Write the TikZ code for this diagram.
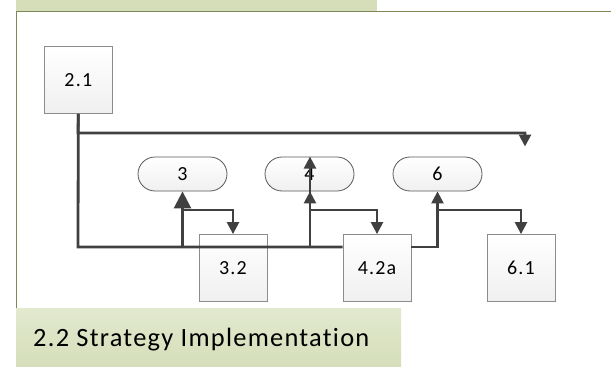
\documentclass[tikz,border=0pt]{standalone}
\usepackage{fontspec}
\setmainfont{Carlito}[Ligatures=NoCommon]
\newfontfamily\labelfont{Carlito}[LetterSpace=6, Ligatures=NoCommon]
\newfontfamily\titlefont{Carlito}[LetterSpace=4.8, Ligatures=NoCommon]
\usetikzlibrary{arrows.meta}

\definecolor{linkgray}{HTML}{404040}
\definecolor{boxedge}{HTML}{8C8C8C}
\definecolor{pilledge}{HTML}{595959}
\definecolor{bandgreen}{HTML}{D5DEB9}
\definecolor{bandlight}{HTML}{E2E9CF}
\definecolor{frameolive}{HTML}{7D8759}

\tikzset{
  stepbox/.style={draw=boxedge, line width=0.8pt, top color=white, bottom color=black!6,
    minimum width=68pt, minimum height=67pt, inner sep=0pt,
    font=\labelfont\fontsize{20}{24}\selectfont},
  pill/.style={draw=pilledge, line width=0.8pt, top color=white, bottom color=black!6,
    rounded corners=17pt, minimum width=89pt, minimum height=34pt, inner sep=0pt,
    font=\labelfont\fontsize{20}{24}\selectfont},
  link/.style={draw=linkgray, line width=2.8pt},
  branch/.style={draw=linkgray, line width=2.4pt, -{Triangle[length=12pt,width=12pt]}},
  bigtip/.style={draw=linkgray, line width=2.6pt, -{Triangle[length=17pt,width=17pt]}},
}

\begin{document}
\begin{tikzpicture}[x=1pt, y=-1pt]
  \useasboundingbox (0,0) rectangle (611,367);

  % frame and title bands
  \fill[bandgreen] (16,0) rectangle (377,11);
  \draw[frameolive, line width=1pt] (611,11.5) -- (16,11.5) -- (16,308);
  \shade[top color=bandlight, bottom color=bandgreen] (16,308) rectangle (401,367);
  \node[anchor=base west, inner sep=0pt, font=\titlefont\fontsize{26.4}{30}\selectfont] (title)
    at (33,346) {2.2 Strategy Implementation};

  % nodes
  \node[stepbox] (n21) at (78.3,80) {2.1};
  \node[pill] (p3) at (182.5,174) {3};
  \node[pill] (p4) at (309.5,174) {4};
  \node[pill] (p6) at (437.5,174) {6};
  \node[stepbox] (b32) at (233,268) {3.2};
  \node[stepbox] (b42) at (377,268) {4.2a};
  \node[stepbox] (b61) at (521,268) {6.1};

  % junction points
  \coordinate (top) at (78,133);
  \coordinate (open) at (525,146.5);
  \coordinate (base) at (78,247);
  \coordinate (j3) at (182.5,247);
  \coordinate (j4) at (310,247);
  \coordinate (k3) at (182.5,210);
  \coordinate (k4) at (310,210);
  \coordinate (out) at (411,247);
  \coordinate (k6) at (437.5,210);

  % connectors
  \draw[link, -{Triangle[length=12pt,width=12pt]}] (n21.south) -- (top) -- (top -| open) -- (open);
  \draw[link] (n21.south) -- (base) -- (base -| b42.west);
  \draw[bigtip] (j3) -- (p3.south);
  \draw[branch] (k3) -- (k3 -| b32.north) -- (b32.north);
  \draw[branch] (j4) -- (j4 |- p4.south);
  \draw[branch] (j4) -- (j4 |- p4.north);
  \draw[branch] (k4) -- (k4 -| b42.north) -- (b42.north);
  \draw[branch] (out) -- (out -| p6.south) -- (p6.south);
  \draw[branch] (k6) -- (k6 -| b61.north) -- (b61.north);
\end{tikzpicture}
\end{document}
